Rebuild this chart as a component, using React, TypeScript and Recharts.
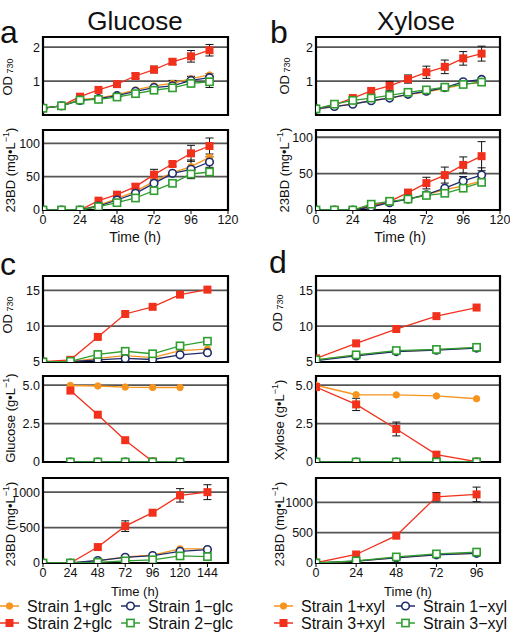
import React from 'react';
import { LineChart, Line, XAxis, YAxis, CartesianGrid, ReferenceArea, ErrorBar } from 'recharts';

const FONT = '"Liberation Sans", Arial, Helvetica, sans-serif';
const ORANGE = '#f7941d';
const NAVY = '#1f2d6b';
const RED = '#f2311c';
const GREEN = '#2f9e2f';

// time points (h)
const hoursAB = [0, 12, 24, 36, 48, 60, 72, 84, 96, 108];
const hoursC = [0, 24, 48, 72, 96, 120, 144];
const hoursCSugar = [24, 48, 72, 96, 120];
const hoursD = [0, 24, 48, 72, 96];

// a — glucose, OD730
const aOdS1p = [0.2, 0.27, 0.46, 0.5, 0.6, 0.74, 0.86, 0.93, 1.07, 1.18];
const aOdS1m = [0.2, 0.27, 0.43, 0.48, 0.57, 0.7, 0.81, 0.86, 1.02, 1.1];
const aOdS2p = [0.2, 0.27, 0.54, 0.74, 0.91, 1.15, 1.34, 1.57, 1.73, 1.91];
const aOdS2m = [0.2, 0.27, 0.44, 0.46, 0.53, 0.63, 0.73, 0.8, 0.93, 0.98];
const aOdErrS2p = [null, null, null, null, 0.05, 0.08, 0.1, 0.08, 0.17, 0.17];
const aOdErrS1m = [null, null, null, null, null, null, 0.06, 0.16, 0.12, 0.12];
const aOdErrS2m = [null, null, null, null, null, null, null, null, 0.08, 0.17];

// a — glucose, 23BD (mg/L)
const aBdS1p = [0, 0, 0, 7, 17, 28, 43, 56, 65, 79];
const aBdS1m = [0, 0, 0, 6, 15, 25, 40, 55, 61, 72];
const aBdS2p = [0, 0, 0, 14, 23, 35, 53, 69, 85, 96];
const aBdS2m = [0, 0, 0, 5, 11, 18, 29, 40, 54, 57];
const aBdErrS2p = [null, null, null, null, 2, 4, 8, 3, 12, 12];
const aBdErrS1m = [null, null, null, null, null, null, null, null, 14, 8];

// b — xylose, OD730
const bOdS1p = [0.18, 0.25, 0.33, 0.42, 0.5, 0.6, 0.68, 0.78, 0.9, 0.96];
const bOdS1m = [0.18, 0.25, 0.32, 0.42, 0.5, 0.61, 0.7, 0.81, 0.98, 1.05];
const bOdS2p = [0.18, 0.3, 0.5, 0.71, 0.86, 1.06, 1.26, 1.42, 1.67, 1.81];
const bOdS2m = [0.18, 0.32, 0.43, 0.5, 0.58, 0.67, 0.74, 0.82, 0.9, 0.97];
const bOdErrS2p = [null, null, null, null, 0.13, 0.12, 0.18, 0.2, 0.2, 0.22];

// b — xylose, 23BD (mg/L)
const bBdS1p = [0, 0, 0, 6, 11, 15, 21, 28, 33, 40];
const bBdS1m = [0, 0, 0, 4, 10, 15, 21, 30, 40, 48];
const bBdS2p = [0, 0, 0, 5, 12, 24, 37, 48, 62, 74];
const bBdS2m = [0, 0, 0, 8, 12, 15, 20, 23, 30, 38];
const bBdErrS2p = [null, null, null, null, null, 3, 8, 11, 11, 20];
const bBdErrS1m = [null, null, null, null, null, null, null, null, 6, 10];

// c — glucose, OD730
const cOdS1p = [5.0, 5.05, 5.5, 5.9, 5.6, 6.6, 6.8];
const cOdS1m = [5.0, 5.05, 5.3, 5.5, 5.35, 6.0, 6.3];
const cOdS2p = [5.05, 5.3, 8.5, 11.7, 12.7, 14.4, 15.1];
const cOdS2m = [5.0, 5.1, 6.05, 6.5, 6.15, 7.25, 7.9];

// c — glucose remaining (g/L)
const cSugS1p = [4.98, 4.95, 4.88, 4.85, 4.85];
const cSugS1m = [0, 0, 0, 0, 0];
const cSugS2p = [4.65, 3.08, 1.42, 0.03, 0];
const cSugS2m = [0, 0, 0, 0, 0];

// c — glucose, 23BD (mg/L)
const cBdS1p = [0, 0, 30, 85, 110, 200, 200];
const cBdS1m = [0, 0, 35, 80, 105, 165, 190];
const cBdS2p = [0, 0, 225, 520, 710, 955, 1000];
const cBdS2m = [0, 0, 10, 30, 45, 100, 90];
const cBdErrS2p = [null, null, null, 75, null, 95, 105];

// d — xylose, OD730
const dOdS1p = [5.3, 5.95, 6.5, 6.7, 7.0];
const dOdS1m = [5.2, 5.85, 6.45, 6.65, 6.95];
const dOdS2p = [5.5, 7.6, 9.6, 11.4, 12.6];
const dOdS2m = [5.3, 6.0, 6.6, 6.75, 7.05];

// d — xylose remaining (g/L)
const dSugS1p = [5.0, 4.38, 4.37, 4.3, 4.12];
const dSugS1m = [0, 0, 0, 0, 0];
const dSugS2p = [4.88, 3.75, 2.15, 0.48, 0.02];
const dSugS2m = [0, 0, 0, 0, 0];
const dSugErrS2p = [null, 0.4, 0.45, null, null];

// d — xylose, 23BD (mg/L)
const dBdS1p = [0, 30, 90, 140, 165];
const dBdS1m = [0, 30, 85, 135, 160];
const dBdS2p = [5, 140, 450, 1090, 1130];
const dBdS2m = [0, 35, 100, 150, 180];
const dBdErrS2p = [null, null, null, 70, 120];

const legendGlc = ['Strain 1+glc', 'Strain 1\u2212glc', 'Strain 2+glc', 'Strain 2\u2212glc'];
const legendXyl = ['Strain 1+xyl', 'Strain 1\u2212xyl', 'Strain 3+xyl', 'Strain 3\u2212xyl'];

type Val = number | null;
const KEYS = ['p1', 'm1', 'p2', 'm2'];

const build = (t: number[], s: Val[][], e: (Val[] | null)[] = []) =>
  t.map((h, i) => {
    const r: Record<string, Val> = { t: h };
    KEYS.forEach((k, j) => {
      r[k] = s[j][i];
      if (e[j]) r[k + 'e'] = e[j]![i];
    });
    return r;
  });

// draw order: orange, red, navy, green
const SERIES = [
  { key: 'p1', color: ORANGE, shape: 'dot' },
  { key: 'p2', color: RED, shape: 'fsq' },
  { key: 'm1', color: NAVY, shape: 'ocirc' },
  { key: 'm2', color: GREEN, shape: 'osq' },
];

const Marker = ({ shape, color, cx, cy }: any) => {
  if (shape === 'dot') return <circle cx={cx} cy={cy} r={3.2} fill={color} stroke={color} />;
  if (shape === 'fsq') return <rect x={cx - 4} y={cy - 4} width={8} height={8} fill={color} />;
  if (shape === 'ocirc') return <circle cx={cx} cy={cy} r={3.8} fill="#fff" stroke={color} strokeWidth={1.6} />;
  return <rect x={cx - 3.6} y={cy - 3.6} width={7.2} height={7.2} fill="#fff" stroke={color} strokeWidth={1.6} />;
};

const makeDot = (shape: string, color: string) => (p: any) => {
  const { cx, cy, index } = p;
  if (cx == null || cy == null) return <g key={index} />;
  return (
    <g key={index}>
      <Marker shape={shape} color={color} cx={cx} cy={cy} />
    </g>
  );
};

const tickStyle = { fontSize: 12.5, fill: '#111', fontFamily: FONT };

interface PanelProps {
  data: Record<string, Val>[];
  x: number;
  y: number;
  w: number;
  h: number;
  xDomain: [number, number];
  yDomain: [number, number];
  yTicks: number[];
  xTicks?: number[];
  yFmt?: (v: number) => string;
}

function Panel({ data, x, y, w, h, xDomain, yDomain, yTicks, xTicks, yFmt }: PanelProps) {
  const YW = 40;
  const M = 3;
  const R = 14;
  const B = 9;
  const XH = 20;
  const width = YW + w + R;
  const height = M + h + (xTicks ? XH : B);
  return (
    <div style={{ position: 'absolute', left: x - YW, top: y - M }}>
      <LineChart width={width} height={height} data={data} margin={{ top: M, right: R, left: 0, bottom: xTicks ? 0 : B }}>
        <CartesianGrid vertical={false} stroke="#555" strokeWidth={1.8} />
        <XAxis
          type="number"
          dataKey="t"
          domain={xDomain}
          ticks={xTicks}
          hide={!xTicks}
          height={XH}
          interval={0}
          allowDataOverflow
          axisLine={false}
          tickLine={{ stroke: '#000' }}
          tickSize={4}
          tickMargin={1}
          tick={tickStyle}
        />
        <YAxis
          type="number"
          domain={yDomain}
          ticks={yTicks}
          width={YW}
          interval={0}
          allowDataOverflow
          axisLine={false}
          tickLine={false}
          tickSize={0}
          tickMargin={3}
          tick={tickStyle}
          tickFormatter={yFmt}
        />
        <ReferenceArea
          x1={xDomain[0]}
          x2={xDomain[1]}
          y1={yDomain[0]}
          y2={yDomain[1]}
          fill="none"
          fillOpacity={0}
          stroke="#000"
          strokeWidth={2.2}
        />
        {SERIES.map((s) => (
          <Line
            key={s.key}
            type="linear"
            dataKey={s.key}
            stroke={s.color}
            strokeWidth={1.3}
            dot={makeDot(s.shape, s.color)}
            activeDot={false}
            isAnimationActive={false}
            connectNulls
          >
            {data.some((r) => r[s.key + 'e'] != null) && (
              <ErrorBar dataKey={s.key + 'e'} width={4} stroke="#111" strokeWidth={1} direction="y" />
            )}
          </Line>
        ))}
      </LineChart>
    </div>
  );
}

const sugarFmt = (v: number) => (v === 0 ? '0' : v.toFixed(1));

function YLabel({ cx, cy, main, sub, sup }: { cx: number; cy: number; main: string; sub?: string; sup?: string }) {
  return (
    <text
      transform={`translate(${cx},${cy}) rotate(-90)`}
      textAnchor="middle"
      dominantBaseline="central"
      fontSize={13}
      fontFamily={FONT}
      fill="#111"
    >
      {main}
      {sub && (
        <tspan fontSize={9} dy={3}>
          {' ' + sub}
        </tspan>
      )}
      {sup && (
        <>
          <tspan fontSize={9} dy={-4}>
            {sup}
          </tspan>
          <tspan dy={4}>)</tspan>
        </>
      )}
    </text>
  );
}

function LegendItem({ x, y, label, idx }: { x: number; y: number; label: string; idx: number }) {
  const s = [SERIES[0], SERIES[2], SERIES[1], SERIES[3]][idx];
  return (
    <g>
      <line x1={x} x2={x + 19} y1={y} y2={y} stroke={s.color} strokeWidth={1.5} />
      <Marker shape={s.shape} color={s.color} cx={x + 9.5} cy={y} />
      <text x={x + 27} y={y + 5.5} fontSize={16} fontFamily={FONT} fill="#111">
        {label}
      </text>
    </g>
  );
}

export default function App() {
  const aOd = build(hoursAB, [aOdS1p, aOdS1m, aOdS2p, aOdS2m], [null, aOdErrS1m, aOdErrS2p, aOdErrS2m]);
  const aBd = build(hoursAB, [aBdS1p, aBdS1m, aBdS2p, aBdS2m], [null, aBdErrS1m, aBdErrS2p, null]);
  const bOd = build(hoursAB, [bOdS1p, bOdS1m, bOdS2p, bOdS2m], [null, null, bOdErrS2p, null]);
  const bBd = build(hoursAB, [bBdS1p, bBdS1m, bBdS2p, bBdS2m], [null, bBdErrS1m, bBdErrS2p, null]);
  const cOd = build(hoursC, [cOdS1p, cOdS1m, cOdS2p, cOdS2m]);
  const cSug = build(hoursCSugar, [cSugS1p, cSugS1m, cSugS2p, cSugS2m]);
  const cBd = build(hoursC, [cBdS1p, cBdS1m, cBdS2p, cBdS2m], [null, null, cBdErrS2p, null]);
  const dOd = build(hoursD, [dOdS1p, dOdS1m, dOdS2p, dOdS2m]);
  const dSug = build(hoursD, [dSugS1p, dSugS1m, dSugS2p, dSugS2m], [null, null, dSugErrS2p, null]);
  const dBd = build(hoursD, [dBdS1p, dBdS1m, dBdS2p, dBdS2m], [null, null, dBdErrS2p, null]);

  return (
    <div style={{ position: 'absolute', left: 0, top: 0, width: 510, height: 632, background: '#fff', overflow: 'hidden' }}>
      <Panel data={aOd} x={43} y={37} w={185} h={78} xDomain={[0, 120]} yDomain={[0, 2.3]} yTicks={[1, 2]} />
      <Panel data={aBd} x={43} y={130} w={185} h={80} xDomain={[0, 120]} yDomain={[0, 120]} yTicks={[0, 50, 100]} xTicks={[0, 24, 48, 72, 96, 120]} />
      <Panel data={bOd} x={316} y={37} w={184} h={78} xDomain={[0, 120]} yDomain={[0, 2.3]} yTicks={[1, 2]} />
      <Panel data={bBd} x={316} y={130} w={184} h={80} xDomain={[0, 120]} yDomain={[0, 110]} yTicks={[0, 50, 100]} xTicks={[0, 24, 48, 72, 96, 120]} />

      <Panel data={cOd} x={43} y={276} w={185} h={86} xDomain={[0, 162]} yDomain={[5, 17]} yTicks={[5, 10, 15]} />
      <Panel data={cSug} x={43} y={376} w={185} h={86} xDomain={[0, 162]} yDomain={[0, 5.6]} yTicks={[0, 2.5, 5]} yFmt={sugarFmt} />
      <Panel data={cBd} x={43} y={478} w={185} h={85} xDomain={[0, 162]} yDomain={[0, 1200]} yTicks={[0, 500, 1000]} xTicks={[0, 24, 48, 72, 96, 120, 144]} />
      <Panel data={dOd} x={316} y={276} w={184} h={86} xDomain={[0, 110]} yDomain={[5, 17]} yTicks={[5, 10, 15]} />
      <Panel data={dSug} x={316} y={376} w={184} h={86} xDomain={[0, 110]} yDomain={[0, 5.6]} yTicks={[0, 2.5, 5]} yFmt={sugarFmt} />
      <Panel data={dBd} x={316} y={478} w={184} h={85} xDomain={[0, 110]} yDomain={[0, 1400]} yTicks={[0, 500, 1000]} xTicks={[0, 24, 48, 72, 96]} />

      <svg width={510} height={632} style={{ position: 'absolute', left: 0, top: 0, pointerEvents: 'none' }}>
        <text x={135} y={30} textAnchor="middle" fontSize={26} fontFamily={FONT} fill="#111">Glucose</text>
        <text x={416} y={30} textAnchor="middle" fontSize={26} fontFamily={FONT} fill="#111">Xylose</text>
        <text x={0} y={43} fontSize={32} fontFamily={FONT} fill="#111">a</text>
        <text x={270} y={43} fontSize={32} fontFamily={FONT} fill="#111">b</text>
        <text x={0} y={275} fontSize={32} fontFamily={FONT} fill="#111">c</text>
        <text x={269} y={273} fontSize={32} fontFamily={FONT} fill="#111">d</text>

        <YLabel cx={7} cy={77} main="OD" sub="730" />
        <YLabel cx={10} cy={170} main="23BD (mg•L" sup="−1" />
        <YLabel cx={284} cy={76} main="OD" sub="730" />
        <YLabel cx={284} cy={170} main="23BD (mg•L" sup="−1" />
        <YLabel cx={7} cy={315} main="OD" sub="730" />
        <YLabel cx={10} cy={418} main="Glucose (g•L" sup="−1" />
        <YLabel cx={10} cy={524} main="23BD (mg•L" sup="−1" />
        <YLabel cx={277} cy={313} main="OD" sub="730" />
        <YLabel cx={279} cy={420} main="Xylose (g•L" sup="−1" />
        <YLabel cx={279} cy={524} main="23BD (mg•L" sup="−1" />

        <text x={135} y={242} textAnchor="middle" fontSize={14} fontFamily={FONT} fill="#111">Time (h)</text>
        <text x={400} y={242} textAnchor="middle" fontSize={14} fontFamily={FONT} fill="#111">Time (h)</text>
        <text x={135} y={596} textAnchor="middle" fontSize={13} fontFamily={FONT} fill="#111">Time (h)</text>
        <text x={408} y={596} textAnchor="middle" fontSize={13} fontFamily={FONT} fill="#111">Time (h)</text>

        <LegendItem x={0} y={606} label={legendGlc[0]} idx={0} />
        <LegendItem x={121} y={606} label={legendGlc[1]} idx={1} />
        <LegendItem x={0} y={623} label={legendGlc[2]} idx={2} />
        <LegendItem x={121} y={623} label={legendGlc[3]} idx={3} />
        <LegendItem x={274} y={606} label={legendXyl[0]} idx={0} />
        <LegendItem x={396} y={606} label={legendXyl[1]} idx={1} />
        <LegendItem x={274} y={623} label={legendXyl[2]} idx={2} />
        <LegendItem x={396} y={623} label={legendXyl[3]} idx={3} />
      </svg>
    </div>
  );
}
